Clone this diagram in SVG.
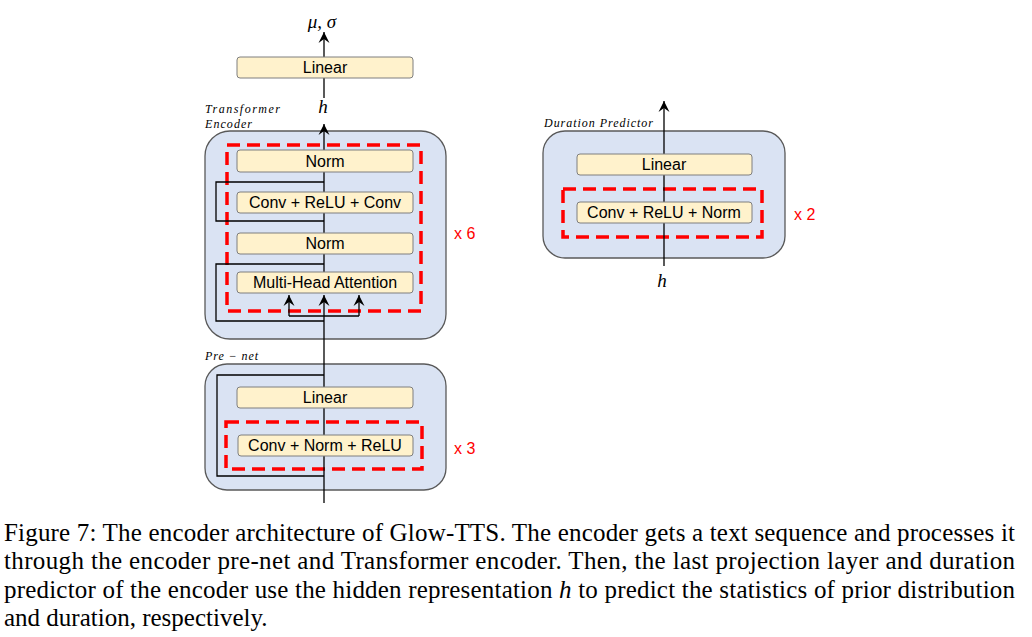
<svg xmlns="http://www.w3.org/2000/svg" width="1032" height="637" viewBox="0 0 1032 637">
<defs>
<style>
.cont{fill:#DAE3F3;stroke:#595959;stroke-width:1.3}
.box{fill:#FFF2CC;stroke:#7F7F7F;stroke-width:1}
.dash{fill:none;stroke:#FF0000;stroke-width:3.5;stroke-dasharray:13 7}
.lbl{font-family:"Liberation Sans",Arial,sans-serif;font-size:16px;fill:#000;text-anchor:middle}
.rep{font-family:"Liberation Sans",Arial,sans-serif;font-size:16px;fill:#FF0000}
.it{font-family:"Liberation Serif","Times New Roman",serif;font-style:italic;font-size:12px;fill:#000}
.math{font-family:"Liberation Serif","Times New Roman",serif;font-style:italic;font-size:19px;fill:#000;text-anchor:middle}
.ln{fill:none;stroke:#000;stroke-width:1.3}
.cap{font-family:"Liberation Serif","Times New Roman",serif;font-size:25px;fill:#000}
</style>
<marker id="arr" markerUnits="userSpaceOnUse" viewBox="-12 -6 13 12" markerWidth="13" markerHeight="12" refX="0" refY="0" orient="auto">
<path d="M0,0 L-11,5.5 L-7,0 L-11,-5.5 Z" fill="#000"/>
</marker>
</defs>
<rect width="1032" height="637" fill="#fff"/>

<g id="transformer-encoder">
<rect class="cont" x="205" y="131" width="241" height="208" rx="25"/>
<text class="it" x="205" y="113" textLength="75" lengthAdjust="spacing">Transformer</text>
<text class="it" x="205" y="128" textLength="47" lengthAdjust="spacing">Encoder</text>
<rect class="dash" x="227" y="145" width="194" height="166"/>
<text class="rep" x="454" y="239">x 6</text>
</g>

<g id="pre-net">
<rect class="cont" x="205" y="364" width="241" height="126" rx="22"/>
<text class="it" x="205" y="360" textLength="53" lengthAdjust="spacing">Pre − net</text>
<rect class="dash" x="226" y="422" width="196" height="47"/>
<text class="rep" x="454" y="454">x 3</text>
</g>

<g id="duration-predictor">
<rect class="cont" x="543" y="131" width="242" height="127" rx="22"/>
<text class="it" x="544" y="127" textLength="109" lengthAdjust="spacing">Duration Predictor</text>
<rect class="dash" x="563" y="189" width="199" height="48"/>
<text class="rep" x="794" y="220">x 2</text>
</g>

<g id="connectors">
<path class="ln" d="M324,503 L324,295" marker-end="url(#arr)"/>
<path class="ln" d="M324,293 L324,124" marker-end="url(#arr)"/>
<path class="ln" d="M324,78 L324,98"/>
<path class="ln" d="M324,57 L324,32" marker-end="url(#arr)"/>
<path class="ln" d="M324,182 L216,182 L216,221 L324,221"/>
<path class="ln" d="M324,264 L216,264 L216,321 L324,321"/>
<path class="ln" d="M289,316 L359,316"/>
<path class="ln" d="M289,316 L289,295" marker-end="url(#arr)"/>
<path class="ln" d="M359,316 L359,295" marker-end="url(#arr)"/>
<path class="ln" d="M324,375 L217,375 L217,476 L324,476"/>
<path class="ln" d="M664,266 L664,101" marker-end="url(#arr)"/>
</g>

<g id="out-linear">
<rect class="box" x="237" y="57" width="176" height="21" rx="3"/>
<text class="lbl" x="325" y="73">Linear</text>
</g>
<g id="norm1">
<rect class="box" x="237" y="150" width="176" height="22" rx="3"/>
<text class="lbl" x="325" y="167">Norm</text>
</g>
<g id="ffn">
<rect class="box" x="237" y="192" width="176" height="21" rx="3"/>
<text class="lbl" x="325" y="208">Conv + ReLU + Conv</text>
</g>
<g id="norm2">
<rect class="box" x="237" y="233" width="176" height="21" rx="3"/>
<text class="lbl" x="325" y="249">Norm</text>
</g>
<g id="mha">
<rect class="box" x="237" y="272" width="176" height="21" rx="3"/>
<text class="lbl" x="325" y="288">Multi-Head Attention</text>
</g>
<g id="pre-linear">
<rect class="box" x="237" y="387" width="176" height="21" rx="3"/>
<text class="lbl" x="325" y="403">Linear</text>
</g>
<g id="pre-conv">
<rect class="box" x="238" y="435" width="175" height="21" rx="3"/>
<text class="lbl" x="325" y="451">Conv + Norm + ReLU</text>
</g>
<g id="dur-linear">
<rect class="box" x="577" y="154" width="175" height="21" rx="3"/>
<text class="lbl" x="664" y="170">Linear</text>
</g>
<g id="dur-conv">
<rect class="box" x="577" y="202" width="175" height="21" rx="3"/>
<text class="lbl" x="664" y="218">Conv + ReLU + Norm</text>
</g>

<g id="math-labels">
<text class="math" x="322" y="28" font-size="17">μ, σ</text>
<text class="math" x="323" y="113">h</text>
<text class="math" x="662" y="287">h</text>
</g>

<g id="caption">
<text class="cap" x="4" y="541" textLength="1011" lengthAdjust="spacing">Figure 7: The encoder architecture of Glow-TTS. The encoder gets a text sequence and processes it</text>
<text class="cap" x="4" y="569" textLength="1011" lengthAdjust="spacing">through the encoder pre-net and Transformer encoder. Then, the last projection layer and duration</text>
<text class="cap" x="4" y="598" textLength="1011" lengthAdjust="spacing">predictor of the encoder use the hidden representation <tspan font-style="italic">h</tspan> to predict the statistics of prior distribution</text>
<text class="cap" x="4" y="626">and duration, respectively.</text>
</g>
</svg>
